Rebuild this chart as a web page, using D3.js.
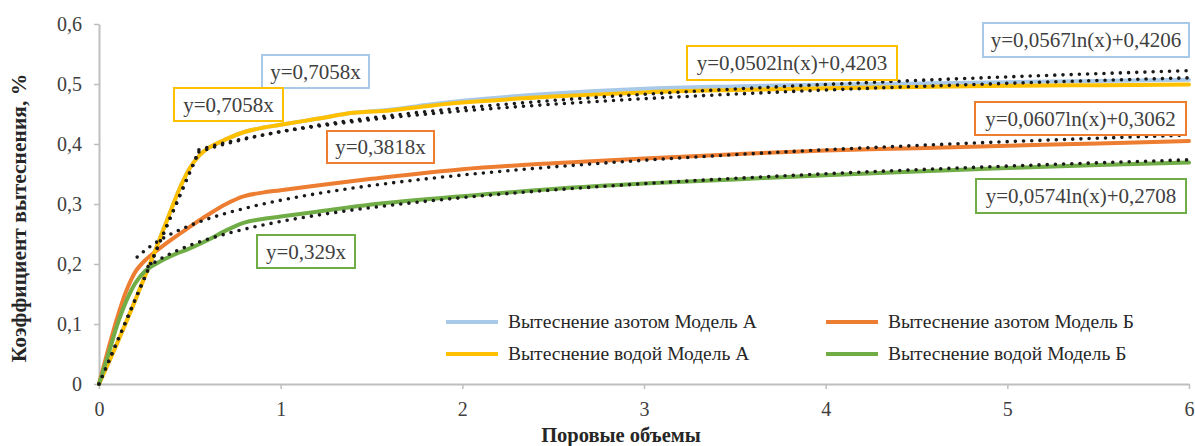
<!DOCTYPE html>
<html>
<head>
<meta charset="utf-8">
<script src="https://cdn.jsdelivr.net/npm/d3@7"></script>
<style>
  body { margin: 0; background: #fff; }
  svg { display: block; }
  svg text { font-family: "Liberation Serif", "Tinos", "Times New Roman", serif !important; }
</style>
</head>
<body>
<svg id="chart" width="1195" height="446"></svg>
<script>
// ---- Data -------------------------------------------------------------
const xTicks = [0, 1, 2, 3, 4, 5, 6];
const yTicks = [0, 0.1, 0.2, 0.3, 0.4, 0.5, 0.6];

// Pore volumes for model A runs
const poreVolA = [0, 0.1, 0.2, 0.3, 0.4, 0.45, 0.5, 0.55, 0.6, 0.7, 0.8, 0.9, 1.0, 1.2, 1.4, 1.6, 1.8, 2.0, 2.5, 3.0, 3.5, 4.0, 4.5, 5.0, 5.5, 6.0];
const nitrogenA = [0, 0.068, 0.14, 0.215, 0.293, 0.33, 0.36, 0.38, 0.393, 0.408, 0.42, 0.427, 0.432, 0.442, 0.452, 0.457, 0.465, 0.472, 0.484, 0.492, 0.496, 0.499, 0.501, 0.503, 0.505, 0.507];
const waterA    = [0, 0.068, 0.14, 0.215, 0.293, 0.33, 0.36, 0.38, 0.393, 0.408, 0.42, 0.427, 0.432, 0.442, 0.452, 0.456, 0.463, 0.469, 0.479, 0.486, 0.49, 0.493, 0.495, 0.497, 0.498, 0.499];

// Pore volumes for model B runs
const poreVolB = [0, 0.05, 0.1, 0.15, 0.2, 0.25, 0.3, 0.4, 0.5, 0.6, 0.7, 0.8, 0.9, 1.0, 1.2, 1.5, 2.0, 2.5, 3.0, 3.5, 4.0, 4.5, 5.0, 5.5, 6.0];
const nitrogenB = [0, 0.057, 0.11, 0.155, 0.187, 0.205, 0.218, 0.241, 0.262, 0.282, 0.30, 0.313, 0.319, 0.323, 0.331, 0.342, 0.358, 0.368, 0.376, 0.383, 0.389, 0.393, 0.397, 0.401, 0.405];
const waterB    = [0, 0.048, 0.098, 0.138, 0.168, 0.187, 0.198, 0.214, 0.226, 0.24, 0.256, 0.269, 0.275, 0.279, 0.287, 0.299, 0.313, 0.325, 0.334, 0.341, 0.348, 0.354, 0.36, 0.365, 0.369];

const seriesNames = ["Вытеснение азотом Модель А", "Вытеснение азотом Модель Б", "Вытеснение водой Модель А", "Вытеснение водой Модель Б"];
const seriesColors = ["#a9c9e8", "#ed7d31", "#ffc000", "#70ad47"];

// Trendline coefficients: linear y = k*x on the early stage, y = a*ln(x) + b afterwards
const linearK   = [0.7058, 0.3818, 0.7058, 0.329];
const linearEnd = [0.55, 0, 0.55, 0];          // extent of the drawn linear part (0 = not drawn)
const logA      = [0.0567, 0.0607, 0.0502, 0.0574];
const logB      = [0.4206, 0.3062, 0.4203, 0.2708];
const logStart  = [0.55, 0.21, 0.55, 0.27];

// Equation labels: text and the series whose colour frames it
const eqText   = ["y=0,7058x", "y=0,7058x", "y=0,3818x", "y=0,329x",
                  "y=0,0502ln(x)+0,4203", "y=0,0567ln(x)+0,4206", "y=0,0607ln(x)+0,3062", "y=0,0574ln(x)+0,2708"];
const eqSeries = [0, 2, 1, 3, 2, 0, 1, 3];

// ---- Layout -----------------------------------------------------------
const eqBoxes = [
  [262, 55, 107, 33], [174, 88, 109, 33], [327, 131, 107, 32], [257, 235, 98, 33],
  [687, 46, 210, 34], [983, 23, 206, 34], [975, 102, 211, 33], [976, 179, 210, 34]
];
const legendPos = [[446, 322], [826, 322], [446, 354], [826, 354]];
const serif = '"Liberation Serif", "Tinos", "Times New Roman", serif';

const svg = d3.select("#chart");
const x = d3.scaleLinear().domain([0, 6]).range([99, 1189]);
const y = d3.scaleLinear().domain([0, 0.6]).range([384, 24]);
const comma = d => d === 0 ? "0" : d3.format(".1f")(d).replace(".", ",");

// Axes
const axisColor = "#bfbfbf";
const gx = svg.append("g").attr("transform", `translate(0,${y(0)})`)
  .call(d3.axisBottom(x).tickValues(xTicks).tickSize(5).tickSizeOuter(0).tickPadding(13).tickFormat(d => d));
const gy = svg.append("g").attr("transform", `translate(${x(0)},0)`)
  .call(d3.axisLeft(y).tickValues(yTicks).tickSize(5).tickSizeOuter(0).tickPadding(12).tickFormat(comma));
[gx, gy].forEach(g => {
  g.attr("font-family", serif);
  g.select(".domain").attr("stroke", axisColor).attr("stroke-width", 2);
  g.selectAll(".tick line").attr("stroke", axisColor).attr("stroke-width", 1.5);
  g.selectAll(".tick text").attr("fill", "#404040").attr("font-family", serif).style("font-size", "20px");
});

// Axis titles
svg.append("text")
  .attr("transform", "translate(26,218) rotate(-90)")
  .attr("text-anchor", "middle").attr("fill", "#262626").attr("font-family", serif)
  .style("font-size", "21.5px").style("font-weight", "bold")
  .text("Коэффициент вытеснения, %");
svg.append("text")
  .attr("x", 621).attr("y", 442).attr("text-anchor", "middle").attr("fill", "#262626").attr("font-family", serif)
  .style("font-size", "20.5px").style("font-weight", "bold")
  .text("Поровые объемы");

// Data curves
const line = d3.line().x(d => x(d[0])).y(d => y(d[1])).curve(d3.curveCatmullRom.alpha(0.5));
const seriesData = [
  d3.zip(poreVolA, nitrogenA),
  d3.zip(poreVolB, nitrogenB),
  d3.zip(poreVolA, waterA),
  d3.zip(poreVolB, waterB)
];
svg.append("g").selectAll("path").data(seriesData).join("path")
  .attr("d", line).attr("fill", "none")
  .attr("stroke", (d, i) => seriesColors[i])
  .attr("stroke-width", 4).attr("stroke-linejoin", "round").attr("stroke-linecap", "round");

// Trendlines (dotted)
const trendLine = d3.line().x(d => x(d[0])).y(d => y(d[1]));
const gTrend = svg.append("g").attr("fill", "none").attr("stroke", "#1a1a1a")
  .attr("stroke-width", 3.6).attr("stroke-linecap", "round").attr("stroke-dasharray", "0 8.2");
seriesNames.forEach((_, i) => {
  if (linearEnd[i] > 0) {
    gTrend.append("path").attr("d", trendLine([[0, 0], [linearEnd[i], linearK[i] * linearEnd[i]]]));
  }
  const pts = d3.range(logStart[i], 6.0001, 0.02).map(v => [v, logA[i] * Math.log(v) + logB[i]]);
  gTrend.append("path").attr("d", d3.line().x(d => x(d[0])).y(d => y(d[1])).curve(d3.curveBasis)(pts));
});

// Equation labels
const gEq = svg.append("g");
eqText.forEach((t, i) => {
  const [bx, by, bw, bh] = eqBoxes[i];
  gEq.append("rect").attr("x", bx).attr("y", by).attr("width", bw).attr("height", bh)
    .attr("fill", "#fff").attr("stroke", seriesColors[eqSeries[i]]).attr("stroke-width", 2);
  gEq.append("text").attr("x", bx + bw / 2).attr("y", by + bh / 2).attr("dy", "0.35em")
    .attr("text-anchor", "middle").attr("fill", "#404040").attr("font-family", serif)
    .style("font-size", "21px").text(t);
});

// Legend
const gLeg = svg.append("g");
seriesNames.forEach((name, i) => {
  const [lx, ly] = legendPos[i];
  gLeg.append("line").attr("x1", lx).attr("x2", lx + 52).attr("y1", ly).attr("y2", ly)
    .attr("stroke", seriesColors[i]).attr("stroke-width", 4);
  gLeg.append("text").attr("x", lx + 62).attr("y", ly).attr("dy", "0.33em")
    .attr("fill", "#262626").attr("font-family", serif).style("font-size", "19.5px").text(name);
});
</script>
</body>
</html>
